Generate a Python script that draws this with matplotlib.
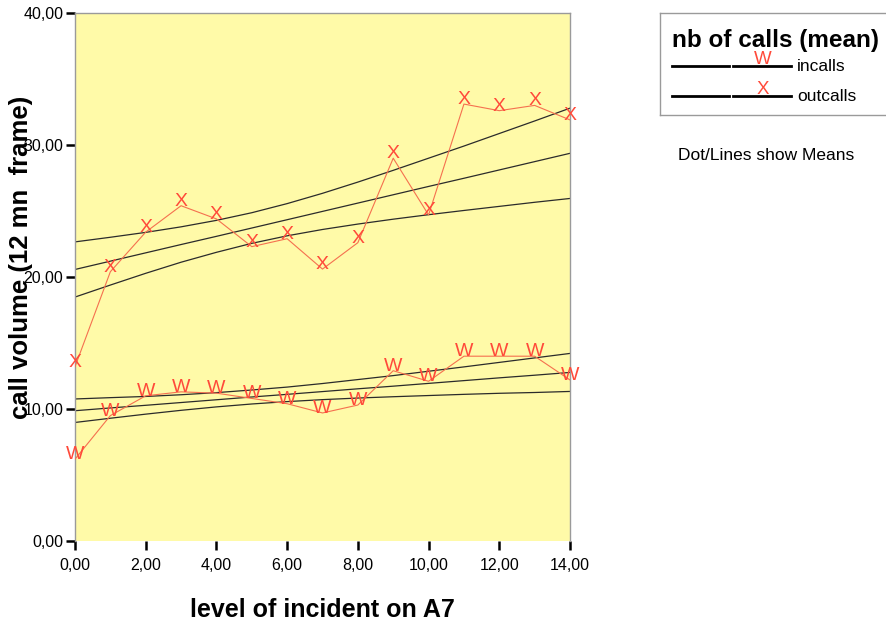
import numpy as np
import matplotlib
matplotlib.use('Agg')
import matplotlib.pyplot as plt
from matplotlib.ticker import FuncFormatter

plt.rcParams['font.family'] = ['Liberation Sans', 'DejaVu Sans']

# ==========================================
# DATA
# ==========================================
levels = [0, 1, 2, 3, 4, 5, 6, 7, 8, 9, 10, 11, 12, 13, 14]
incalls = [6.2, 9.5, 11.0, 11.3, 11.2, 10.8, 10.4, 9.7, 10.3, 12.9, 12.1, 14.0, 14.0, 14.0, 12.2]
outcalls = [13.2, 20.4, 23.4, 25.4, 24.4, 22.3, 22.9, 20.6, 22.6, 29.0, 24.7, 33.1, 32.6, 33.0, 31.9]

# fit line and its upper / lower band, one value per level
incalls_fit = [9.87, 10.08, 10.28, 10.49, 10.70, 10.91, 11.11, 11.32, 11.53, 11.73, 11.94, 12.15, 12.36, 12.56, 12.77]
incalls_upper = [10.76, 10.86, 10.95, 11.08, 11.24, 11.44, 11.66, 11.93, 12.23, 12.53, 12.86, 13.19, 13.53, 13.87, 14.21]
incalls_lower = [8.98, 9.30, 9.61, 9.90, 10.16, 10.38, 10.56, 10.71, 10.83, 10.93, 11.02, 11.11, 11.19, 11.25, 11.33]

outcalls_fit = [20.57, 21.20, 21.83, 22.46, 23.08, 23.71, 24.34, 24.97, 25.60, 26.23, 26.86, 27.48, 28.11, 28.74, 29.37]
outcalls_upper = [22.66, 23.01, 23.38, 23.80, 24.29, 24.87, 25.56, 26.34, 27.19, 28.08, 29.00, 29.92, 30.87, 31.82, 32.79]
outcalls_lower = [18.48, 19.39, 20.28, 21.12, 21.87, 22.55, 23.12, 23.60, 24.01, 24.38, 24.72, 25.04, 25.35, 25.66, 25.95]

series_names = ['incalls', 'outcalls']
series_marks = ['W', 'X']

x_ticks = [0, 2, 4, 6, 8, 10, 12, 14]
y_ticks = [0, 10, 20, 30, 40]

# ==========================================
# STYLE
# ==========================================
W, H = 887, 620
PLOT_BG = '#fffaa8'
MARK_COL = '#ff4a3a'
LINK_COL = '#f5704f'
FIT_COL = '#2b2b2b'
EDGE_COL = '#9a9a9a'


def comma_fmt(v, pos):
    return f"{v:.2f}".replace('.', ',')


fig = plt.figure(figsize=(W / 100, H / 100), dpi=100, facecolor='white')
ax = fig.add_axes([75 / W, 79 / H, 495 / W, 528 / H])
ax.set_facecolor(PLOT_BG)
ax.set_xlim(0, 14)
ax.set_ylim(0, 40)

# fit lines with bands
for band in [incalls_upper, incalls_fit, incalls_lower,
             outcalls_upper, outcalls_fit, outcalls_lower]:
    ax.plot(levels, band, color=FIT_COL, lw=0.9, zorder=2)

# mean lines with letter markers
for vals, mark in zip([incalls, outcalls], series_marks):
    ax.plot(levels, vals, color=LINK_COL, lw=0.8, zorder=3)
    for x, y in zip(levels, vals):
        ax.text(x, y, mark, ha='center', va='baseline', color=MARK_COL,
                fontsize=14, zorder=4, clip_on=False)

ax.set_xticks(x_ticks)
ax.set_yticks(y_ticks)
ax.xaxis.set_major_formatter(FuncFormatter(comma_fmt))
ax.yaxis.set_major_formatter(FuncFormatter(comma_fmt))
ax.tick_params(axis='both', direction='out', length=6.5, width=1.8,
               color='black', labelsize=11.5)
ax.tick_params(axis='x', pad=6)
ax.tick_params(axis='y', pad=2)

for side in ['left', 'top', 'right']:
    ax.spines[side].set_color(EDGE_COL)
    ax.spines[side].set_linewidth(1.0)
ax.spines['bottom'].set_visible(False)

fig.text(322.5 / W, 1 - 610 / H, 'level of incident on A7', ha='center', va='center',
         fontsize=18, fontweight='bold')
fig.text(21 / W, 1 - 257 / H, 'call volume (12 mn  frame)', rotation=90,
         ha='center', va='center', fontsize=18.5, fontweight='bold')

# ==========================================
# LEGEND BOX (drawn in pixel coords)
# ==========================================
lax = fig.add_axes([660 / W, 1 - 115 / H, 240 / W, 102 / H])
lax.set_xlim(660, 900)
lax.set_ylim(115, 13)
lax.set_xticks([])
lax.set_yticks([])
lax.set_facecolor('white')
for s in lax.spines.values():
    s.set_color(EDGE_COL)
    s.set_linewidth(1.0)

lax.text(672, 47, 'nb of calls (mean)', ha='left', va='baseline',
         fontsize=17.5, fontweight='bold')
for row_y, name, mark in zip([65.7, 95.7], series_names, series_marks):
    lax.plot([672, 729], [row_y, row_y], color='black', lw=2)
    lax.plot([733, 791], [row_y, row_y], color='black', lw=2)
    lax.text(763, row_y - 1.5, mark, ha='center', va='baseline', color=MARK_COL,
             fontsize=13.5)
    lax.text(797, row_y + 1, name, ha='left', va='center', fontsize=12.5)

fig.text(678 / W, 1 - 155 / H, 'Dot/Lines show Means', ha='left', va='center',
         fontsize=12.5)

fig.savefig('out.png', dpi=100, facecolor='white')
